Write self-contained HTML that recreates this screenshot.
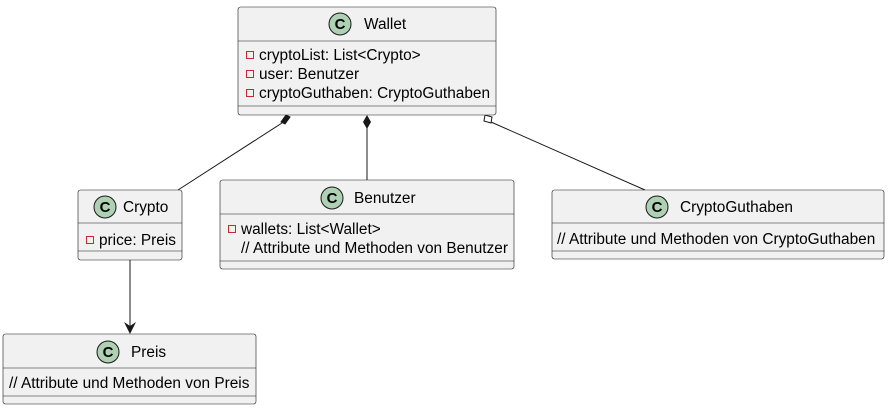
<!DOCTYPE html>
<html><head><meta charset="utf-8"><style>
html,body{margin:0;padding:0;background:#fff;}
svg{display:block;}
text{font-family:"Liberation Sans",sans-serif;font-size:15.4px;fill:#000;}
</style></head><body>
<svg width="890" height="409" viewBox="0 0 890 409" xmlns="http://www.w3.org/2000/svg">
<defs>
<g id="ci"><circle r="11" fill="#ADD1B2" stroke="#181818" stroke-width="1"/><text x="0" y="5" text-anchor="middle" style="font-weight:bold;font-size:15px">C</text></g>
<g id="sq"><rect x="-3.5" y="-3.5" width="7" height="7" fill="none" stroke="#C82930" stroke-width="1"/></g>
</defs>
<g stroke="#181818" stroke-width="1" fill="none">
<line x1="282" y1="123" x2="178" y2="190"/>
<line x1="367" y1="128" x2="367" y2="180"/>
<line x1="491" y1="122" x2="645" y2="190"/>
<line x1="130" y1="260" x2="130" y2="326"/>
</g>
<polygon points="124,322 130,334 136,322 130,326" fill="#181818"/>
<polygon points="286,115 290,117 285,124 281,122" fill="#181818" stroke="#181818"/>
<polygon points="367,115 371,122 367,129 363,122" fill="#181818"/>
<polygon points="485,115 492,117 491,123 484,121" fill="#fff" stroke="#181818"/>
<g fill="#F1F1F1" stroke="#181818" stroke-width="0.6">
<rect x="238" y="7" width="258" height="108" rx="2.5"/>
<rect x="78" y="190" width="104" height="70" rx="2.5"/>
<rect x="220" y="180" width="294" height="89" rx="2.5"/>
<rect x="552" y="190" width="332" height="69" rx="2.5"/>
<rect x="3" y="334" width="253" height="70" rx="2.5"/>
<line x1="238" y1="41" x2="496" y2="41"/><line x1="238" y1="106" x2="496" y2="106"/>
<line x1="78" y1="223" x2="182" y2="223"/><line x1="78" y1="251" x2="182" y2="251"/>
<line x1="220" y1="214" x2="514" y2="214"/><line x1="220" y1="261" x2="514" y2="261"/>
<line x1="552" y1="223" x2="884" y2="223"/><line x1="552" y1="251" x2="884" y2="251"/>
<line x1="3" y1="368" x2="256" y2="368"/><line x1="3" y1="396" x2="256" y2="396"/>
</g>
<use href="#ci" x="340" y="24"/><text x="364" y="29">Wallet</text>
<use href="#sq" x="250" y="55"/><text x="259" y="60">cryptoList: List&lt;Crypto&gt;</text>
<use href="#sq" x="250" y="74"/><text x="259" y="79">user: Benutzer</text>
<use href="#sq" x="250" y="93"/><text x="259" y="98">cryptoGuthaben: CryptoGuthaben</text>
<use href="#ci" x="105" y="207"/><text x="123" y="212">Crypto</text>
<use href="#sq" x="90" y="240"/><text x="99" y="245">price: Preis</text>
<use href="#ci" x="332" y="198"/><text x="354" y="203">Benutzer</text>
<use href="#sq" x="232" y="229"/><text x="241" y="234">wallets: List&lt;Wallet&gt;</text>
<text x="241" y="253">// Attribute und Methoden von Benutzer</text>
<use href="#ci" x="657" y="207"/><text x="680" y="212">CryptoGuthaben</text>
<text x="557" y="244">// Attribute und Methoden von CryptoGuthaben</text>
<use href="#ci" x="108" y="352"/><text x="131" y="357">Preis</text>
<text x="9" y="388">// Attribute und Methoden von Preis</text>
</svg>
</body></html>
